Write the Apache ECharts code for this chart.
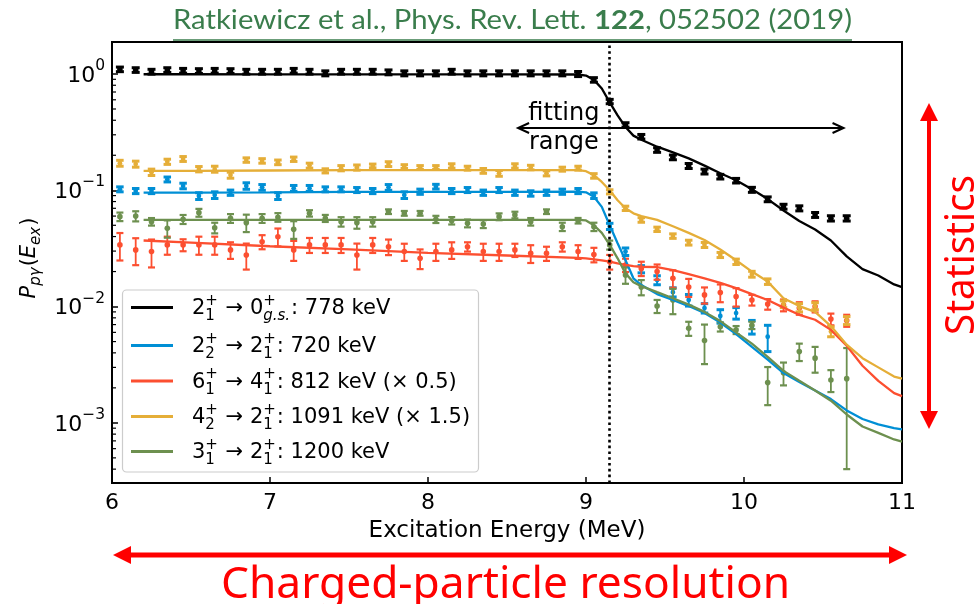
<!DOCTYPE html>
<html>
<head>
<meta charset="utf-8">
<script src="https://cdn.jsdelivr.net/npm/echarts@6/dist/echarts.min.js"></script>
<style>
  html, body { margin: 0; padding: 0; background: #fff; }
  #chart { width: 979px; height: 604px; }
</style>
</head>
<body>
<div id="chart"></div>
<script>
// Excitation-energy bin centres (MeV) of the measured points
const energy = [6.05, 6.15, 6.25, 6.35, 6.45, 6.55, 6.65, 6.75, 6.85, 6.95,
  7.05, 7.15, 7.25, 7.35, 7.45, 7.55, 7.65, 7.75, 7.85, 7.95,
  8.05, 8.15, 8.25, 8.35, 8.45, 8.55, 8.65, 8.75, 8.85, 8.95,
  9.05, 9.15, 9.25, 9.35, 9.45, 9.55, 9.65, 9.75, 9.85, 9.95,
  10.05, 10.15, 10.25, 10.35, 10.45, 10.55, 10.65];

// Measured P_pγ and symmetric errors for each transition
const gsVals = [1.097, 1.082, 1.047, 1.082, 1.067, 1.061, 1.067, 1.061, 1.047, 1.047,
  1.047, 1.067, 1.047, 1.014, 1.047, 1.047, 1.047, 1.034, 1.014, 1.014,
  1.014, 1.047, 1.014, 1.014, 1.014, 1.014, 1.014, 1.014, 1.014, 1.0,
  0.89, 0.58, 0.365, 0.289, 0.222, 0.192, 0.162, 0.145, 0.131, 0.121,
  0.101, 0.0837, 0.0723, 0.070, 0.0614, 0.0574, 0.0574];
const gsErr = [0.05, 0.05, 0.05, 0.05, 0.05, 0.05, 0.05, 0.05, 0.05, 0.05,
  0.05, 0.05, 0.05, 0.05, 0.05, 0.05, 0.05, 0.05, 0.05, 0.05,
  0.05, 0.05, 0.05, 0.05, 0.05, 0.05, 0.05, 0.05, 0.05, 0.05,
  0.04, 0.025, 0.016, 0.013, 0.01, 0.009, 0.008, 0.007, 0.006, 0.0055,
  0.005, 0.004, 0.0035, 0.0035, 0.003, 0.003, 0.003];

const t720Vals = [0.102, 0.0986, 0.0986, 0.124, 0.109, 0.0893, 0.091, 0.0954, 0.109, 0.106,
  0.0893, 0.104, 0.104, 0.102, 0.102, 0.1006, 0.0986, 0.106, 0.091, 0.0973,
  0.1075, 0.0986, 0.1006, 0.0954, 0.1006, 0.0954, 0.094, 0.0954, 0.0973, 0.0986,
  0.090, 0.049, 0.0297, 0.021, 0.0169, 0.0133, 0.0114, 0.0097, 0.0083, 0.0088,
  0.0067, 0.0055];
const t720Err = [0.005, 0.005, 0.005, 0.006, 0.006, 0.006, 0.006, 0.005, 0.007, 0.006,
  0.006, 0.006, 0.006, 0.005, 0.005, 0.005, 0.005, 0.006, 0.006, 0.005,
  0.005, 0.005, 0.005, 0.005, 0.005, 0.005, 0.005, 0.005, 0.005, 0.005,
  0.005, 0.003, 0.0022, 0.0015, 0.0015, 0.0012, 0.0013, 0.0009, 0.0011, 0.001,
  0.0009, 0.0014];

const t812Vals = [0.0339, 0.0307, 0.0297, 0.0339, 0.0339, 0.0339, 0.0339, 0.0307, 0.0278, 0.0361,
  0.0399, 0.0307, 0.0339, 0.0339, 0.0339, 0.0278, 0.0339, 0.0327, 0.0297, 0.026,
  0.0297, 0.0307, 0.0327, 0.0297, 0.0297, 0.0307, 0.0287, 0.0287, 0.0327, 0.0297,
  0.028, 0.0243, 0.0228, 0.0213, 0.020, 0.0175, 0.0147, 0.0126, 0.0132, 0.0122,
  0.0114, 0.0105, 0.0103, 0.0097, 0.0100, 0.0078, 0.0076];
const t812Err = [0.009, 0.008, 0.008, 0.006, 0.004, 0.006, 0.006, 0.005, 0.007, 0.005,
  0.007, 0.006, 0.005, 0.005, 0.005, 0.007, 0.005, 0.005, 0.005, 0.005,
  0.005, 0.005, 0.003, 0.005, 0.005, 0.004, 0.005, 0.004, 0.003, 0.004,
  0.004, 0.0035, 0.003, 0.003, 0.003, 0.003, 0.0026, 0.002, 0.0023, 0.0022,
  0.0012, 0.0011, 0.0012, 0.0012, 0.0011, 0.0009, 0.0009];

const t1091Vals = [0.171, 0.168, 0.143, 0.176, 0.186, 0.152, 0.152, 0.135, 0.182, 0.179,
  0.174, 0.185, 0.163, 0.147, 0.155, 0.157, 0.162, 0.168, 0.160, 0.157,
  0.157, 0.162, 0.155, 0.147, 0.140, 0.162, 0.157, 0.140, 0.152, 0.155,
  0.133, 0.097, 0.070, 0.0556, 0.0462, 0.0404, 0.0355, 0.0339, 0.0278, 0.0243,
  0.019, 0.0164, 0.0105, 0.0098, 0.0101, 0.0061, 0.0076];
const t1091Err = [0.010, 0.010, 0.009, 0.009, 0.009, 0.008, 0.009, 0.008, 0.008, 0.008,
  0.008, 0.008, 0.008, 0.006, 0.008, 0.008, 0.006, 0.008, 0.006, 0.006,
  0.006, 0.007, 0.006, 0.007, 0.008, 0.007, 0.007, 0.007, 0.006, 0.006,
  0.006, 0.004, 0.003, 0.0025, 0.002, 0.0018, 0.0017, 0.0017, 0.0014, 0.0013,
  0.0011, 0.0009, 0.0007, 0.0008, 0.0007, 0.0006, 0.0006];

const t1200Vals = [0.0593, 0.0600, 0.0537, 0.0471, 0.0563, 0.0642, 0.0476, 0.0574, 0.0527, 0.0574,
  0.0586, 0.0462, 0.0634, 0.0574, 0.0537, 0.0527, 0.0537, 0.0655, 0.0634, 0.0634,
  0.0563, 0.0548, 0.052, 0.0513, 0.0593, 0.0614, 0.0537, 0.0655, 0.0486, 0.0548,
  0.0486, 0.0339, 0.0187, 0.0147, 0.0101, 0.0114, 0.0065, 0.0051, 0.0067, 0.0063,
  0.0069, 0.00222, 0.0027, 0.0041, 0.0036, 0.00234, 0.0024];
const t1200Err = [0.005, 0.006, 0.004, 0.008, 0.005, 0.005, 0.005, 0.005, 0.009, 0.005,
  0.005, 0.008, 0.004, 0.004, 0.005, 0.006, 0.005, 0.003, 0.003, 0.003,
  0.004, 0.004, 0.004, 0.004, 0.004, 0.004, 0.004, 0.003, 0.004, 0.003,
  0.004, 0.003, 0.003, 0.0022, 0.0013, 0.0028, 0.0009, 0.0019, 0.0006, 0.0005,
  0.0005, 0.0008, 0.0006, 0.0007, 0.0009, 0.0005, 0.002];

// Calculated curves, sampled on a common energy grid
const modelE = [6.2, 6.5, 7.0, 7.5, 8.0, 8.5, 8.95, 9.0, 9.05, 9.1,
  9.15, 9.2, 9.25, 9.3, 9.35, 9.45, 9.55, 9.65, 9.75, 9.85,
  9.95, 10.05, 10.15, 10.25, 10.35, 10.45, 10.55, 10.65, 10.75, 10.85,
  10.95, 11.0];
const gsModel = [0.995, 0.995, 0.994, 0.994, 0.994, 0.994, 0.99, 0.97, 0.89, 0.75,
  0.57, 0.44, 0.35, 0.295, 0.272, 0.237, 0.212, 0.188, 0.163, 0.14,
  0.122, 0.102, 0.084, 0.067, 0.0545, 0.046, 0.037, 0.027, 0.021, 0.0185,
  0.0155, 0.0147];
const t720Model = [0.0955, 0.0955, 0.096, 0.097, 0.097, 0.097, 0.0975, 0.096, 0.088, 0.072,
  0.05, 0.035, 0.025, 0.0175, 0.0153, 0.0128, 0.0114, 0.0101, 0.0088, 0.0073,
  0.0058, 0.0045, 0.0035, 0.00268, 0.00225, 0.0019, 0.0016, 0.00128, 0.00108, 0.00097,
  0.0009, 0.00088];
const t812Model = [0.037, 0.0355, 0.033, 0.031, 0.029, 0.0275, 0.0262, 0.026, 0.0255, 0.025,
  0.0243, 0.0235, 0.0228, 0.0223, 0.022, 0.0218, 0.0206, 0.019, 0.0175, 0.016,
  0.0144, 0.0128, 0.0114, 0.0098, 0.0085, 0.0077, 0.0063, 0.0046, 0.0031, 0.0023,
  0.0018, 0.0017];
const t1091Model = [0.147, 0.147, 0.148, 0.149, 0.149, 0.149, 0.149, 0.146, 0.135, 0.118,
  0.1, 0.082, 0.07, 0.0634, 0.060, 0.0556, 0.049, 0.043, 0.0374, 0.031,
  0.025, 0.02, 0.0164, 0.0118, 0.0101, 0.009, 0.0068, 0.0047, 0.0036, 0.003,
  0.0025, 0.0024];
const t1200Model = [0.0556, 0.0556, 0.0556, 0.0556, 0.0556, 0.0556, 0.0556, 0.055, 0.05, 0.043,
  0.034, 0.026, 0.0193, 0.0162, 0.015, 0.0133, 0.0118, 0.0104, 0.009, 0.0075,
  0.006, 0.0048, 0.0037, 0.0028, 0.0023, 0.0019, 0.00155, 0.00118, 0.00093, 0.00082,
  0.00072, 0.00069];

// Axis ranges, tick labels and annotation anchors
const xTicks = [6, 7, 8, 9, 10, 11];
const yDecades = [0, -1, -2, -3];
const Y_MIN = 3.04e-4, Y_MAX = 1.884;
const fitEdge = 9.15;                    // end of the fitting range (dotted line)
const rangeArrow = [8.57, 10.63, 0.343]; // x from, x to, y level
const rangeText = [8.86, 0.343];

const COLORS = { gs: '#000000', t720: '#008fd5', t812: '#fc4f30', t1091: '#e5ae38', t1200: '#6d904f' };
const FAM = '"DejaVu Sans"';

const chart = echarts.init(document.getElementById('chart'), null, { renderer: 'canvas' });

function errSeries(name, color, vals, errs, cap, r, lw, capW) {
  return {
    type: 'custom', name, clip: true,
    data: vals.map((v, i) => [energy[i], v, errs[i]]),
    encode: { x: 0, y: 1 },
    renderItem(params, api) {
      const x = api.value(0), y = api.value(1), e = api.value(2);
      const c = api.coord([x, y]);
      const t = api.coord([x, y + e]);
      const b = api.coord([x, Math.max(y - e, 1e-7)]);
      const hw = cap / 2;
      const st = (w) => ({ stroke: color, lineWidth: w });
      return {
        type: 'group', children: [
          { type: 'line', shape: { x1: c[0], y1: t[1], x2: c[0], y2: b[1] }, style: st(lw) },
          { type: 'line', shape: { x1: c[0] - hw, y1: t[1], x2: c[0] + hw, y2: t[1] }, style: st(capW) },
          { type: 'line', shape: { x1: c[0] - hw, y1: b[1], x2: c[0] + hw, y2: b[1] }, style: st(capW) },
          { type: 'circle', shape: { cx: c[0], cy: c[1], r }, style: { fill: color } }
        ]
      };
    }
  };
}

function modelSeries(name, color, vals, extra) {
  return Object.assign({
    type: 'line', name, symbol: 'none', showSymbol: false, smooth: false,
    data: modelE.map((x, i) => [x, vals[i]]),
    lineStyle: { color, width: 2.3 }
  }, extra || {});
}

// log-axis minor ticks at 2..9 × 10^n
const minorTicks = [];
for (let e = -4; e <= 0; e++) {
  for (let m = 2; m <= 9; m++) {
    const v = m * Math.pow(10, e);
    if (v > Y_MIN && v < Y_MAX) minorTicks.push([6, v]);
  }
}

const option = {
  animation: false,
  backgroundColor: '#ffffff',
  grid: { left: 112, right: 77, top: 42, bottom: 121, show: true, borderColor: '#000', borderWidth: 2, backgroundColor: 'transparent' },
  xAxis: {
    type: 'value', min: 6, max: 11, interval: 1,
    axisLine: { show: true, lineStyle: { color: '#000', width: 2 } },
    axisTick: { show: true, inside: true, length: 6, lineStyle: { color: '#000', width: 1.5 } },
    axisLabel: { show: true, color: '#000', fontSize: 22, fontFamily: 'DejaVu Sans', margin: 9,
      formatter: v => (xTicks.indexOf(v) >= 0 ? String(v) : '') },
    splitLine: { show: false },
    name: 'Excitation Energy (MeV)', nameLocation: 'middle', nameGap: 37,
    nameTextStyle: { color: '#000', fontSize: 23, fontFamily: 'DejaVu Sans' }
  },
  yAxis: {
    type: 'log', logBase: 10, min: Y_MIN, max: Y_MAX,
    axisLine: { show: true, lineStyle: { color: '#000', width: 2 } },
    axisTick: { show: true, inside: true, length: 6, lineStyle: { color: '#000', width: 1.5 } },
    axisLabel: { show: false },
    splitLine: { show: false }
  },
  series: [
    errSeries('2+ → 0+ data', COLORS.gs, gsVals, gsErr, 8, 2.8, 2.4, 3),
    modelSeries('2+1 → 0+g.s.: 778 keV', COLORS.gs, gsModel, {
      markLine: {
        silent: true, symbol: 'none', label: { show: false },
        lineStyle: { color: '#000', width: 2.6, type: [2.6, 3.2] },
        data: [{ xAxis: fitEdge }]
      }
    }),
    errSeries('720 keV data', COLORS.t720, t720Vals, t720Err, 7.5, 2.4, 2, 3),
    modelSeries('2+2 → 2+1: 720 keV', COLORS.t720, t720Model),
    errSeries('812 keV data', COLORS.t812, t812Vals, t812Err, 7, 2.8, 1.8, 2.2),
    modelSeries('6+1 → 4+1: 812 keV (× 0.5)', COLORS.t812, t812Model),
    errSeries('1091 keV data', COLORS.t1091, t1091Vals, t1091Err, 7.5, 2.4, 2, 3),
    modelSeries('4+2 → 2+1: 1091 keV (× 1.5)', COLORS.t1091, t1091Model),
    errSeries('1200 keV data', COLORS.t1200, t1200Vals, t1200Err, 7, 2.8, 1.8, 2.2),
    modelSeries('3+1 → 2+1: 1200 keV', COLORS.t1200, t1200Model),
    {
      type: 'custom', name: 'minor ticks', z: 5, silent: true,
      data: minorTicks, encode: { x: 0, y: 1 },
      renderItem(params, api) {
        const c = api.coord([api.value(0), api.value(1)]);
        return { type: 'line', shape: { x1: c[0] + 1, y1: c[1], x2: c[0] + 4, y2: c[1] }, style: { stroke: '#000', lineWidth: 1.2 } };
      }
    }
  ]
};
chart.setOption(option);

// ---------- text helpers (math-style labels) ----------
const mctx = document.createElement('canvas').getContext('2d');
function fontStr(size, it, bold, fam) {
  return (it ? 'italic ' : '') + (bold ? 'bold ' : '') + size + 'px ' + (fam || FAM);
}
function measure(t, f) { mctx.font = f; return mctx.measureText(t).width; }
function txt(x, y, t, f, fill, align) {
  return { type: 'text', x, y, style: { text: t, font: f, fill, align: align || 'left', verticalAlign: 'middle', textAlign: align || 'left', textVerticalAlign: 'middle' } };
}
// tokens: plain strings, {t, it}, or stacked {sup, sub, subIt}
function mathRow(tokens, base, small, color, supDy, subDy) {
  let x = 0; const kids = [];
  tokens.forEach(tok => {
    if (typeof tok === 'string') tok = { t: tok };
    if (tok.t !== undefined) {
      const f = fontStr(base, tok.it);
      kids.push(txt(x, 0, tok.t, f, color));
      x += measure(tok.t, f);
    } else {
      let w = 0;
      if (tok.sup) { const f = fontStr(small, false); kids.push(txt(x, supDy, tok.sup, f, color)); w = Math.max(w, measure(tok.sup, f)); }
      if (tok.sub) { const f = fontStr(small, tok.subIt); kids.push(txt(x, subDy, tok.sub, f, color)); w = Math.max(w, measure(tok.sub, f)); }
      x += w + 1;
    }
  });
  return { kids, width: x };
}

const g = [];

// y tick labels 10^n
yDecades.forEach(e => {
  const py = chart.convertToPixel({ yAxisIndex: 0 }, Math.pow(10, e));
  const row = mathRow(['10', { sup: e < 0 ? '−' + (-e) : String(e) }], 22, 15.5, '#000', -10, 0);
  g.push({ type: 'group', x: 106 - row.width, y: py + 2, children: row.kids });
});

// y axis title P_pγ(E_ex)
(function () {
  const row = mathRow([{ t: 'P', it: true }, { sub: 'pγ', subIt: true }, '(', { t: 'E', it: true }, { sub: 'ex', subIt: true }, ')'], 21, 15, '#000', -8, 6);
  g.push({ type: 'group', x: 30, y: 258, rotation: Math.PI / 2, children: [{ type: 'group', x: -row.width / 2, children: row.kids }] });
})();

// fitting-range arrow and label
(function () {
  const a = chart.convertToPixel({ gridIndex: 0 }, [rangeArrow[0], rangeArrow[2]]);
  const b = chart.convertToPixel({ gridIndex: 0 }, [rangeArrow[1], rangeArrow[2]]);
  const st = () => ({ stroke: '#000', lineWidth: 2, fill: null });
  g.push({ type: 'line', z: 20, shape: { x1: a[0], y1: a[1], x2: b[0], y2: b[1] }, style: st() });
  g.push({ type: 'polyline', z: 20, shape: { points: [[a[0] + 11, a[1] - 5], [a[0], a[1]], [a[0] + 11, a[1] + 5]] }, style: st() });
  g.push({ type: 'polyline', z: 20, shape: { points: [[b[0] - 11, b[1] - 5], [b[0], b[1]], [b[0] - 11, b[1] + 5]] }, style: st() });
  const p = chart.convertToPixel({ gridIndex: 0 }, rangeText);
  g.push(txt(p[0], p[1] - 14.4, 'fitting', fontStr(24), '#000', 'center'));
  g.push(txt(p[0], p[1] + 14.4, 'range', fontStr(24), '#000', 'center'));
})();

// legend
(function () {
  const entries = [
    { c: COLORS.gs, tok: ['2', { sup: '+', sub: '1' }, ' → 0', { sup: '+', sub: 'g.s.', subIt: true }, ': 778 keV'] },
    { c: COLORS.t720, tok: ['2', { sup: '+', sub: '2' }, ' → 2', { sup: '+', sub: '1' }, ': 720 keV'] },
    { c: COLORS.t812, tok: ['6', { sup: '+', sub: '1' }, ' → 4', { sup: '+', sub: '1' }, ': 812 keV (× 0.5)'] },
    { c: COLORS.t1091, tok: ['4', { sup: '+', sub: '2' }, ' → 2', { sup: '+', sub: '1' }, ': 1091 keV (× 1.5)'] },
    { c: COLORS.t1200, tok: ['3', { sup: '+', sub: '1' }, ' → 2', { sup: '+', sub: '1' }, ': 1200 keV'] }
  ];
  const rows = [307.5, 345.5, 381, 416.5, 451.5];
  const kids = [{ type: 'rect', shape: { x: 122.5, y: 290, width: 356, height: 182, r: 4 }, style: { fill: 'rgba(255,255,255,0.85)', stroke: '#cccccc', lineWidth: 1.2 } }];
  entries.forEach((en, i) => {
    kids.push({ type: 'line', shape: { x1: 131, y1: rows[i], x2: 173, y2: rows[i] }, style: { stroke: en.c, lineWidth: 3 } });
    const row = mathRow(en.tok, 21, 15, '#000', -8, 7.5);
    kids.push({ type: 'group', x: 192, y: rows[i] + 1.5, children: row.kids });
  });
  g.push({ type: 'group', z: 50, children: kids });
})();

// citation header (underlined)
(function () {
  const fam = '"Lato"', size = 26, col = '#3a7d4c';
  const parts = [{ t: 'Ratkiewicz et al., Phys. Rev. Lett. ' }, { t: '122', b: true }, { t: ', 052502 (2019)' }];
  let x = 0; const kids = [];
  parts.forEach(p => { const f = fontStr(size, false, p.b, fam); kids.push(txt(x, 0, p.t, f, col)); x += measure(p.t, f); });
  const targetW = 679, s = targetW / x;
  g.push({ type: 'group', x: 173, y: 21, scaleX: s, children: kids });
  g.push({ type: 'line', shape: { x1: 173, y1: 40, x2: 852, y2: 40 }, style: { stroke: col, lineWidth: 1.5 } });
})();

// red resolution / statistics arrows and labels
(function () {
  const red = '#ff0000';
  g.push({ type: 'line', shape: { x1: 128, y1: 555, x2: 893, y2: 555 }, style: { stroke: red, lineWidth: 5 } });
  g.push({ type: 'polygon', shape: { points: [[113, 555], [131, 546], [131, 564]] }, style: { fill: red } });
  g.push({ type: 'polygon', shape: { points: [[907, 555], [889, 546], [889, 564]] }, style: { fill: red } });
  g.push({ type: 'line', shape: { x1: 929, y1: 118, x2: 929, y2: 413 }, style: { stroke: red, lineWidth: 4 } });
  g.push({ type: 'polygon', shape: { points: [[929, 103], [920, 121], [938, 121]] }, style: { fill: red } });
  g.push({ type: 'polygon', shape: { points: [[929, 429], [920, 411], [938, 411]] }, style: { fill: red } });

  const f1 = fontStr(44, false, false, '"Noto Sans"');
  const w1 = measure('Charged-particle resolution', f1);
  g.push({ type: 'group', x: 505.5, y: 585, scaleX: 569 / w1, children: [txt(0, 0, 'Charged-particle resolution', f1, red, 'center')] });

  const f2 = fontStr(40, false, false, '"Noto Sans"');
  const w2 = measure('Statistics', f2);
  g.push({ type: 'group', x: 963, y: 255, rotation: Math.PI / 2, children: [{ type: 'group', scaleX: 160 / w2, children: [txt(0, 0, 'Statistics', f2, red, 'center')] }] });
})();

chart.setOption({ graphic: g });
</script>
</body>
</html>
